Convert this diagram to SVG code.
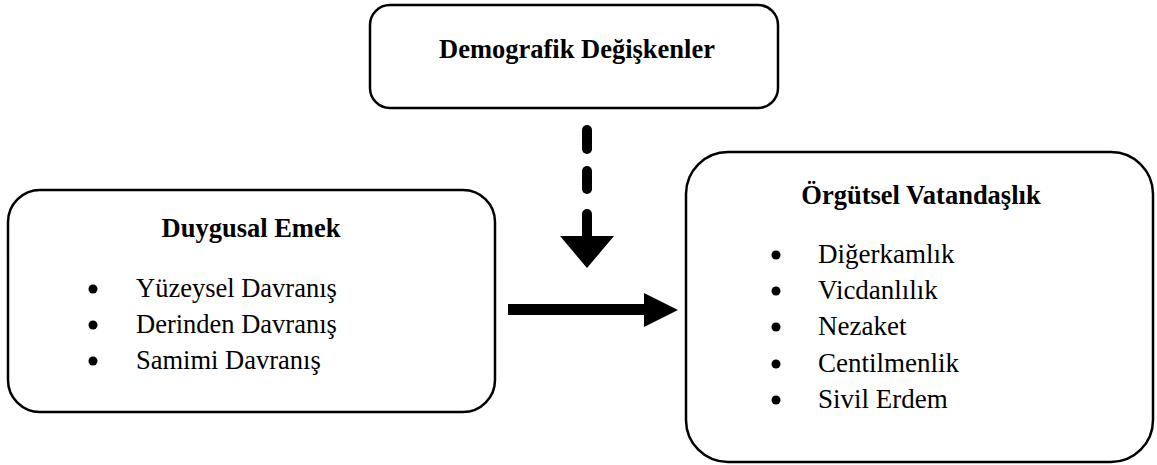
<svg xmlns="http://www.w3.org/2000/svg" width="1157" height="465" viewBox="0 0 1157 465">
  <style>
    .box { fill: #ffffff; stroke: #000000; stroke-width: 2.5; }
    .title { font-family: "Liberation Serif", "Times New Roman", serif; font-weight: bold; font-size: 26.5px; fill: #000; text-anchor: middle; }
    .item { font-family: "Liberation Serif", "Times New Roman", serif; font-size: 26.5px; fill: #000; }
    .item-lg { font-size: 27px; }
    .bullet { fill: #000; }
    .dash { fill: none; stroke: #000; stroke-width: 10; stroke-linecap: round; }
    .solid { fill: #000; stroke: none; }
  </style>
  <rect width="1157" height="465" fill="#ffffff"/>

  <g id="demografik">
    <rect class="box" x="370" y="5" width="408" height="103" rx="20" ry="20"/>
    <text class="title" x="577" y="57.5">Demografik Değişkenler</text>
  </g>

  <g id="duygusal-emek">
    <rect class="box" x="8" y="190" width="487" height="222" rx="32" ry="32"/>
    <text class="title" x="251" y="237">Duygusal Emek</text>
    <circle class="bullet" cx="93" cy="289" r="4.5"/>
    <text class="item" x="136" y="297">Yüzeysel Davranış</text>
    <circle class="bullet" cx="93" cy="325" r="4.5"/>
    <text class="item" x="136" y="333">Derinden Davranış</text>
    <circle class="bullet" cx="93" cy="361" r="4.5"/>
    <text class="item" x="136" y="369">Samimi Davranış</text>
  </g>

  <g id="orgutsel-vatandaslik">
    <rect class="box" x="686" y="152" width="467" height="310" rx="42" ry="42"/>
    <text class="title" x="921" y="204">Örgütsel Vatandaşlık</text>
    <circle class="bullet" cx="776" cy="255" r="4.5"/>
    <text class="item item-lg" x="818" y="263">Diğerkamlık</text>
    <circle class="bullet" cx="776" cy="291" r="4.5"/>
    <text class="item item-lg" x="818" y="299">Vicdanlılık</text>
    <circle class="bullet" cx="776" cy="327" r="4.5"/>
    <text class="item item-lg" x="818" y="335">Nezaket</text>
    <circle class="bullet" cx="776" cy="364" r="4.5"/>
    <text class="item item-lg" x="818" y="372">Centilmenlik</text>
    <circle class="bullet" cx="776" cy="400" r="4.5"/>
    <text class="item item-lg" x="818" y="408">Sivil Erdem</text>
  </g>

  <g id="connectors">
    <!-- dashed arrow from the top box down to the main link -->
    <line class="dash" x1="587" y1="130" x2="587" y2="149"/>
    <line class="dash" x1="587" y1="171" x2="587" y2="189"/>
    <line class="dash" x1="587" y1="214" x2="587" y2="238"/>
    <polygon class="solid" points="560,236 614,236 587,268"/>
    <!-- solid arrow from Duygusal Emek to Örgütsel Vatandaşlık -->
    <rect class="solid" x="508" y="304" width="138" height="11"/>
    <polygon class="solid" points="644,293 678,310 644,327"/>
  </g>
</svg>
